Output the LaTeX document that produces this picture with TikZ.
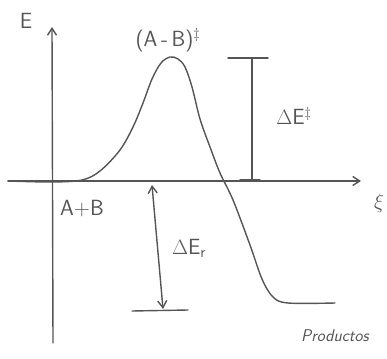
\documentclass[tikz,border=0pt]{standalone}
\usepackage{tikz}
\usetikzlibrary{arrows.meta, positioning, calc}
\usepackage{amsmath, amssymb}
\definecolor{pencil}{RGB}{85, 85, 85}

\tikzset{
  pencilline/.style={draw=pencil, line width=1.4pt, line cap=round, line join=round},
  barb/.style={-{Straight Barb[length=7pt, width=9pt]}},
  handlabel/.style={text=pencil, font=\sffamily\fontsize{22}{26}\selectfont, inner sep=1pt}
}

\begin{document}
\begin{tikzpicture}[x=1pt, y=-1pt]
  \useasboundingbox (0,0) rectangle (387,358);

  % axes
  \coordinate (ybottom) at (53,343);
  \coordinate (ytop) at (52,27);
  \coordinate (xleft) at (8,181);
  \coordinate (xright) at (361,181);
  \draw[pencilline, barb] (ybottom) -- (ytop);
  \draw[pencilline, barb] (xleft) -- (xright);
  \node[handlabel] (energy) at (26,21) {E};
  \node[handlabel] (coord) at (379,203) {$\xi$};

  % energy profile
  \draw[pencilline] plot[smooth, tension=0.55] coordinates {
    (8,181) (52,182) (82,180) (100,171) (120,150) (133,127) (143,103)
    (152,79) (161,63) (170,57) (178,59) (185,67) (192,87) (200,119)
    (210,147) (220,173) (233,200) (250,245) (262,279) (273,297)
    (288,303) (335,303)};

  \node[handlabel] (complex) at (168,40) {(A\,-\,B)$^{\ddagger}$};
  \node[handlabel] (reactants) at (82,209) {A+B};
  \node[handlabel, font=\sffamily\itshape\fontsize{17}{20}\selectfont] (products) at (335,336) {Productos};

  % activation energy bar
  \coordinate (barriertop) at (252,58);
  \coordinate (barrierbase) at (252,180);
  \draw[pencilline] ($(barriertop)+(-24,0)$) -- ($(barriertop)+(16,0)$);
  \draw[pencilline] (barriertop) -- (barrierbase);
  \draw[pencilline] ($(barrierbase)+(-12,0)$) -- ($(barrierbase)+(8,0)$);
  \node[handlabel] (activation) at (294,116) {$\Delta$E$^{\ddagger}$};

  % reaction energy arrow
  \coordinate (rtop) at (152,185);
  \coordinate (rbottom) at (163,309);
  \draw[pencilline] (132,311) -- (188,310);
  \draw[pencilline, {Straight Barb[length=7pt, width=9pt]}-{Straight Barb[length=7pt, width=9pt]}] (rbottom) -- (rtop);
  \node[handlabel] (reaction) at (189,248) {$\Delta$E$_{\textsf{r}}$};
\end{tikzpicture}
\end{document}
